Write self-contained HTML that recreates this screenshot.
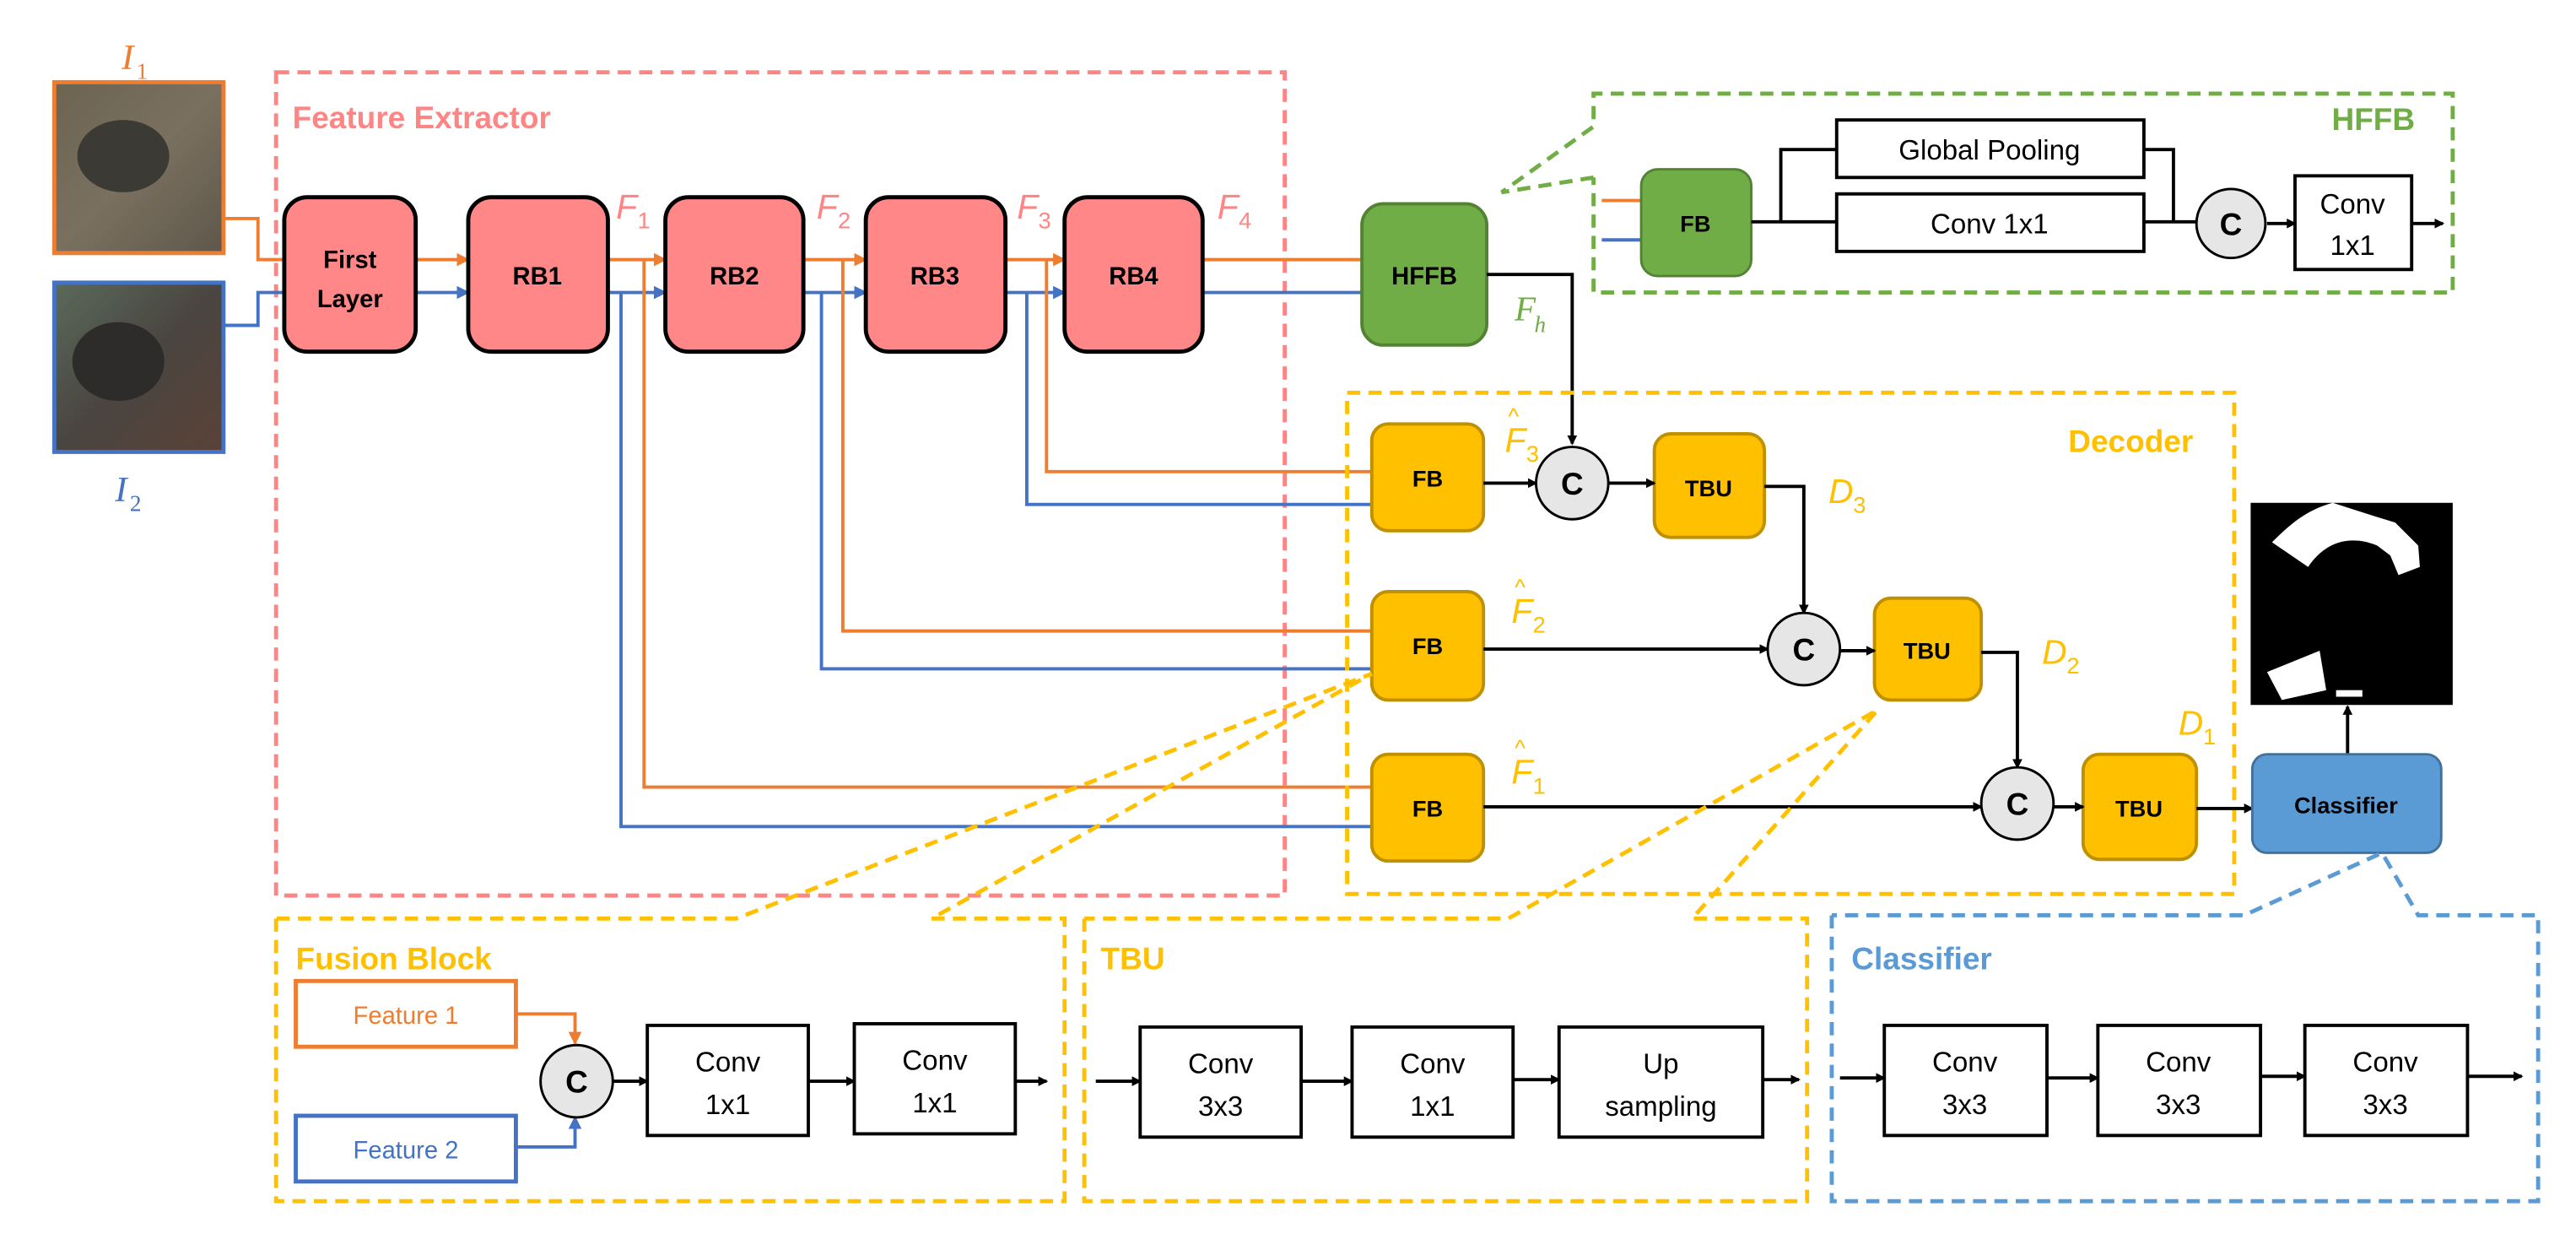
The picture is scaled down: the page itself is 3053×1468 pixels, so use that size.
<!DOCTYPE html>
<html><head><meta charset="utf-8"><style>
html,body{margin:0;padding:0;background:#fff;}
svg{display:block;}
text{font-family:"Liberation Sans",sans-serif;}
.b{font-weight:bold;}
.m{font-family:"Liberation Serif",serif;font-style:italic;}
</style></head><body>
<svg width="3053" height="1468" viewBox="0 0 1568 754" xmlns="http://www.w3.org/2000/svg">
<defs>
<marker id="ak" markerWidth="6" markerHeight="6" refX="5" refY="3" orient="auto" markerUnits="userSpaceOnUse"><path d="M0,0 L6,3 L0,6 z" fill="#000"/></marker>
<marker id="ao" markerWidth="8" markerHeight="8" refX="7" refY="4" orient="auto" markerUnits="userSpaceOnUse"><path d="M0,0 L8,4 L0,8 z" fill="#ED7D31"/></marker>
<marker id="ab" markerWidth="8" markerHeight="8" refX="7" refY="4" orient="auto" markerUnits="userSpaceOnUse"><path d="M0,0 L8,4 L0,8 z" fill="#4472C4"/></marker>
<linearGradient id="sat1" x1="0" y1="0" x2="1" y2="1"><stop offset="0" stop-color="#6b6450"/><stop offset="0.5" stop-color="#7a7060"/><stop offset="1" stop-color="#5e574a"/></linearGradient>
<linearGradient id="sat2" x1="0" y1="0" x2="1" y2="1"><stop offset="0" stop-color="#5a6a5a"/><stop offset="0.5" stop-color="#4a4540"/><stop offset="1" stop-color="#5a4238"/></linearGradient>
</defs>

<!-- input images -->
<text x="74" y="42" class="m" font-size="22" fill="#ED7D31">I</text><text x="83" y="48" class="m" font-size="14" fill="#ED7D31" style="font-style:normal">1</text>
<rect x="33" y="50" width="103" height="104" fill="url(#sat1)" stroke="#ED7D31" stroke-width="2.5"/>
<ellipse cx="75" cy="95" rx="28" ry="22" fill="#3c3a34"/>
<rect x="33" y="172" width="103" height="103" fill="url(#sat2)" stroke="#4472C4" stroke-width="2.5"/>
<ellipse cx="72" cy="220" rx="28" ry="24" fill="#2e2c2a"/>
<text x="70" y="305" class="m" font-size="22" fill="#4472C4">I</text><text x="79" y="311" class="m" font-size="14" fill="#4472C4" style="font-style:normal">2</text>

<!-- Feature extractor box -->
<rect x="168" y="44" width="614" height="501" fill="none" stroke="#FF8585" stroke-width="2.5" stroke-dasharray="8,5"/>
<text x="178" y="78" class="b" font-size="19" fill="#FF8585">Feature Extractor</text>

<!-- colored lines -->
<g fill="none" stroke-width="2">
<polyline points="136,133 157,133 157,158 173,158" stroke="#ED7D31"/>
<polyline points="136,198 157,198 157,178 173,178" stroke="#4472C4"/>
<line x1="253" y1="158" x2="285" y2="158" stroke="#ED7D31" marker-end="url(#ao)"/>
<line x1="253" y1="178" x2="285" y2="178" stroke="#4472C4" marker-end="url(#ab)"/>
<line x1="370" y1="158" x2="405" y2="158" stroke="#ED7D31" marker-end="url(#ao)"/>
<line x1="370" y1="178" x2="405" y2="178" stroke="#4472C4" marker-end="url(#ab)"/>
<line x1="489" y1="158" x2="527" y2="158" stroke="#ED7D31" marker-end="url(#ao)"/>
<line x1="489" y1="178" x2="527" y2="178" stroke="#4472C4" marker-end="url(#ab)"/>
<line x1="612" y1="158" x2="648" y2="158" stroke="#ED7D31" marker-end="url(#ao)"/>
<line x1="612" y1="178" x2="648" y2="178" stroke="#4472C4" marker-end="url(#ab)"/>
<line x1="732" y1="158" x2="829" y2="158" stroke="#ED7D31"/>
<line x1="732" y1="178" x2="829" y2="178" stroke="#4472C4"/>
<polyline points="392,158 392,479 835,479" stroke="#ED7D31"/>
<polyline points="378,178 378,503 835,503" stroke="#4472C4"/>
<polyline points="513,158 513,384 835,384" stroke="#ED7D31"/>
<polyline points="500,178 500,407 835,407" stroke="#4472C4"/>
<polyline points="637,158 637,287 835,287" stroke="#ED7D31"/>
<polyline points="625,178 625,307 835,307" stroke="#4472C4"/>
</g>

<!-- blocks -->
<g stroke="#000" stroke-width="2.5" fill="#FF8787">
<rect x="173" y="120" width="80" height="94" rx="14"/>
<rect x="285" y="120" width="85" height="94" rx="14"/>
<rect x="405" y="120" width="84" height="94" rx="14"/>
<rect x="527" y="120" width="85" height="94" rx="14"/>
<rect x="648" y="120" width="84" height="94" rx="14"/>
</g>
<g class="b" font-size="15" text-anchor="middle" fill="#000">
<text x="213" y="163" class="b">First</text><text x="213" y="187" class="b">Layer</text>
<text x="327" y="173" class="b">RB1</text>
<text x="447" y="173" class="b">RB2</text>
<text x="569" y="173" class="b">RB3</text>
<text x="690" y="173" class="b">RB4</text>
</g>
<g class="m" font-size="21" fill="#FF8585">
<text x="375" y="133">F</text><text x="388" y="139" font-size="14" style="font-style:normal">1</text>
<text x="497" y="133">F</text><text x="510" y="139" font-size="14" style="font-style:normal">2</text>
<text x="619" y="133">F</text><text x="632" y="139" font-size="14" style="font-style:normal">3</text>
<text x="741" y="133">F</text><text x="754" y="139" font-size="14" style="font-style:normal">4</text>
</g>

<!-- HFFB -->
<rect x="829" y="124" width="76" height="86" rx="13" fill="#70AD47" stroke="#548235" stroke-width="2"/>
<text x="867" y="173" class="b" font-size="15" text-anchor="middle">HFFB</text>
<text x="922" y="195" class="m" font-size="21" fill="#70AD47">F</text><text x="934" y="202" class="m" font-size="14" fill="#70AD47">h</text>
<polyline points="905,167 957,167 957,270" fill="none" stroke="#000" stroke-width="2" marker-end="url(#ak)"/>

<!-- HFFB detail -->
<polyline points="970,108 914,117 970,77 970,57 1493,57 1493,178 970,178 970,108" fill="none" stroke="#70AD47" stroke-width="2.5" stroke-dasharray="8,5"/>
<text x="1470" y="79" class="b" font-size="19" fill="#70AD47" text-anchor="end">HFFB</text>
<line x1="975" y1="122" x2="999" y2="122" stroke="#ED7D31" stroke-width="2"/>
<line x1="975" y1="146" x2="999" y2="146" stroke="#4472C4" stroke-width="2"/>
<rect x="999" y="103" width="67" height="65" rx="10" fill="#70AD47" stroke="#548235" stroke-width="1.5"/>
<text x="1032" y="141" class="b" font-size="14" text-anchor="middle">FB</text>
<g fill="none" stroke="#000" stroke-width="2">
<polyline points="1066,135 1118,135"/>
<polyline points="1084,135 1084,91 1118,91"/>
<polyline points="1305,91 1323,91 1323,135"/>
<polyline points="1305,135 1337,135"/>
<line x1="1380" y1="136" x2="1397" y2="136" marker-end="url(#ak)"/>
<line x1="1468" y1="136" x2="1487" y2="136" marker-end="url(#ak)"/>
</g>
<rect x="1118" y="73" width="187" height="35" fill="#fff" stroke="#000" stroke-width="2"/>
<text x="1211" y="97" font-size="17" text-anchor="middle">Global Pooling</text>
<rect x="1118" y="118" width="187" height="35" fill="#fff" stroke="#000" stroke-width="2"/>
<text x="1211" y="142" font-size="17" text-anchor="middle">Conv 1x1</text>
<circle cx="1358" cy="136" r="21" fill="#E6E6E6" stroke="#000" stroke-width="1.5"/>
<text x="1358" y="143" class="b" font-size="19" text-anchor="middle">C</text>
<rect x="1397" y="107" width="71" height="57" fill="#fff" stroke="#000" stroke-width="2"/>
<text x="1432" y="130" font-size="17" text-anchor="middle">Conv</text>
<text x="1432" y="155" font-size="17" text-anchor="middle">1x1</text>

<!-- Decoder -->
<rect x="820" y="239" width="540" height="305" fill="none" stroke="#FFC000" stroke-width="2.5" stroke-dasharray="8,5"/>
<text x="1335" y="275" class="b" font-size="19" fill="#FFC000" text-anchor="end">Decoder</text>
<g fill="#FFC000" stroke="#BF9000" stroke-width="2">
<rect x="835" y="258" width="68" height="65" rx="10"/>
<rect x="835" y="360" width="68" height="66" rx="10"/>
<rect x="835" y="459" width="68" height="65" rx="10"/>
<rect x="1007" y="264" width="67" height="63" rx="10"/>
<rect x="1141" y="364" width="65" height="62" rx="10"/>
<rect x="1268" y="459" width="69" height="64" rx="10"/>
</g>
<g class="b" font-size="14" text-anchor="middle">
<text x="869" y="296" class="b">FB</text>
<text x="869" y="398" class="b">FB</text>
<text x="869" y="497" class="b">FB</text>
<text x="1040" y="302" class="b">TBU</text>
<text x="1173" y="401" class="b">TBU</text>
<text x="1302" y="497" class="b">TBU</text>
</g>
<g fill="none" stroke="#000" stroke-width="2">
<line x1="903" y1="294" x2="935" y2="294" marker-end="url(#ak)"/>
<line x1="979" y1="294" x2="1007" y2="294" marker-end="url(#ak)"/>
<polyline points="1074,296 1098,296 1098,373" marker-end="url(#ak)"/>
<line x1="903" y1="395" x2="1076" y2="395" marker-end="url(#ak)"/>
<line x1="1120" y1="396" x2="1141" y2="396" marker-end="url(#ak)"/>
<polyline points="1206,397 1228,397 1228,467" marker-end="url(#ak)"/>
<line x1="903" y1="491" x2="1206" y2="491" marker-end="url(#ak)"/>
<line x1="1250" y1="491" x2="1268" y2="491" marker-end="url(#ak)"/>
<line x1="1337" y1="492" x2="1371" y2="492" marker-end="url(#ak)"/>
<line x1="1429" y1="459" x2="1429" y2="430" marker-end="url(#ak)"/>
</g>
<g fill="#E6E6E6" stroke="#000" stroke-width="1.5">
<circle cx="957" cy="294" r="22"/>
<circle cx="1098" cy="395" r="22"/>
<circle cx="1228" cy="489" r="22"/>
</g>
<g class="b" font-size="19" text-anchor="middle">
<text x="957" y="301" class="b">C</text>
<text x="1098" y="402" class="b">C</text>
<text x="1228" y="496" class="b">C</text>
</g>
<g class="m" font-size="21" fill="#FFC000">
<text x="916" y="275">F</text><text x="929" y="281" font-size="14" style="font-style:normal">3</text><text x="918" y="258" font-size="14" style="font-style:normal">^</text>
<text x="920" y="379">F</text><text x="933" y="385" font-size="14" style="font-style:normal">2</text><text x="922" y="362" font-size="14" style="font-style:normal">^</text>
<text x="920" y="477">F</text><text x="933" y="483" font-size="14" style="font-style:normal">1</text><text x="922" y="460" font-size="14" style="font-style:normal">^</text>
<text x="1113" y="306">D</text><text x="1128" y="312" font-size="14" style="font-style:normal">3</text>
<text x="1243" y="404">D</text><text x="1258" y="410" font-size="14" style="font-style:normal">2</text>
<text x="1326" y="447">D</text><text x="1341" y="453" font-size="14" style="font-style:normal">1</text>
</g>

<!-- Classifier + mask -->
<rect x="1371" y="459" width="115" height="60" rx="9" fill="#5B9BD5" stroke="#41719C" stroke-width="1.5"/>
<text x="1428" y="495" class="b" font-size="14" text-anchor="middle">Classifier</text>
<rect x="1370" y="306" width="123" height="123" fill="#000"/>
<path d="M1383,330 C1395,318 1405,310 1420,306 L1445,314 L1458,318 L1472,332 L1473,345 L1460,350 L1455,338 L1447,332 C1430,325 1415,330 1405,345 Z" fill="#fff"/>
<polygon points="1380,409 1412,396 1416,420 1389,426" fill="#fff"/>
<rect x="1422" y="420" width="16" height="4" fill="#fff"/>

<!-- zoom lines -->
<g fill="none" stroke="#FFC000" stroke-width="2.5" stroke-dasharray="8,5">
<polyline points="168,559 168,731 648,731 648,559 567,559 835,410 448,559 168,559"/>
<polyline points="660,559 660,731 1100,731 1100,559 1030,559 1143,432 918,559 660,559"/>
</g>
<polyline points="1115,557 1115,731 1545,731 1545,557 1472,557 1450,519 1366,557 1115,557" fill="none" stroke="#5B9BD5" stroke-width="2.5" stroke-dasharray="8,5"/>
<text x="180" y="590" class="b" font-size="19" fill="#FFC000">Fusion Block</text>
<text x="670" y="590" class="b" font-size="19" fill="#FFC000">TBU</text>
<text x="1127" y="590" class="b" font-size="19" fill="#5B9BD5">Classifier</text>

<!-- fusion block detail -->
<rect x="180" y="597" width="134" height="40" fill="#fff" stroke="#ED7D31" stroke-width="2.5"/>
<text x="247" y="623" font-size="15" fill="#ED7D31" text-anchor="middle">Feature 1</text>
<rect x="180" y="679" width="134" height="40" fill="#fff" stroke="#4472C4" stroke-width="2.5"/>
<text x="247" y="705" font-size="15" fill="#4472C4" text-anchor="middle">Feature 2</text>
<polyline points="314,617 350,617 350,635" fill="none" stroke="#ED7D31" stroke-width="2" marker-end="url(#ao)"/>
<polyline points="314,698 350,698 350,680" fill="none" stroke="#4472C4" stroke-width="2" marker-end="url(#ab)"/>
<circle cx="351" cy="658" r="22" fill="#E6E6E6" stroke="#000" stroke-width="1.5"/>
<text x="351" y="665" class="b" font-size="19" text-anchor="middle">C</text>

<g fill="#fff" stroke="#000" stroke-width="2">
<rect x="394" y="624" width="98" height="67"/>
<rect x="520" y="623" width="98" height="67"/>
<rect x="694" y="625" width="98" height="67"/>
<rect x="823" y="625" width="98" height="67"/>
<rect x="949" y="625" width="124" height="67"/>
<rect x="1147" y="624" width="99" height="67"/>
<rect x="1277" y="624" width="99" height="67"/>
<rect x="1403" y="624" width="99" height="67"/>
</g>
<g fill="none" stroke="#000" stroke-width="2">
<line x1="373" y1="658" x2="394" y2="658" marker-end="url(#ak)"/>
<line x1="492" y1="658" x2="520" y2="658" marker-end="url(#ak)"/>
<line x1="618" y1="658" x2="637" y2="658" marker-end="url(#ak)"/>
<line x1="667" y1="658" x2="694" y2="658" marker-end="url(#ak)"/>
<line x1="792" y1="658" x2="823" y2="658" marker-end="url(#ak)"/>
<line x1="921" y1="657" x2="949" y2="657" marker-end="url(#ak)"/>
<line x1="1073" y1="657" x2="1095" y2="657" marker-end="url(#ak)"/>
<line x1="1120" y1="656" x2="1147" y2="656" marker-end="url(#ak)"/>
<line x1="1246" y1="656" x2="1277" y2="656" marker-end="url(#ak)"/>
<line x1="1376" y1="655" x2="1403" y2="655" marker-end="url(#ak)"/>
<line x1="1502" y1="655" x2="1535" y2="655" marker-end="url(#ak)"/>
</g>
<g font-size="17" text-anchor="middle">
<text x="443" y="652">Conv</text><text x="443" y="678">1x1</text>
<text x="569" y="651">Conv</text><text x="569" y="677">1x1</text>
<text x="743" y="653">Conv</text><text x="743" y="679">3x3</text>
<text x="872" y="653">Conv</text><text x="872" y="679">1x1</text>
<text x="1011" y="653">Up</text><text x="1011" y="679">sampling</text>
<text x="1196" y="652">Conv</text><text x="1196" y="678">3x3</text>
<text x="1326" y="652">Conv</text><text x="1326" y="678">3x3</text>
<text x="1452" y="652">Conv</text><text x="1452" y="678">3x3</text>
</g>
</svg>
</body></html>
